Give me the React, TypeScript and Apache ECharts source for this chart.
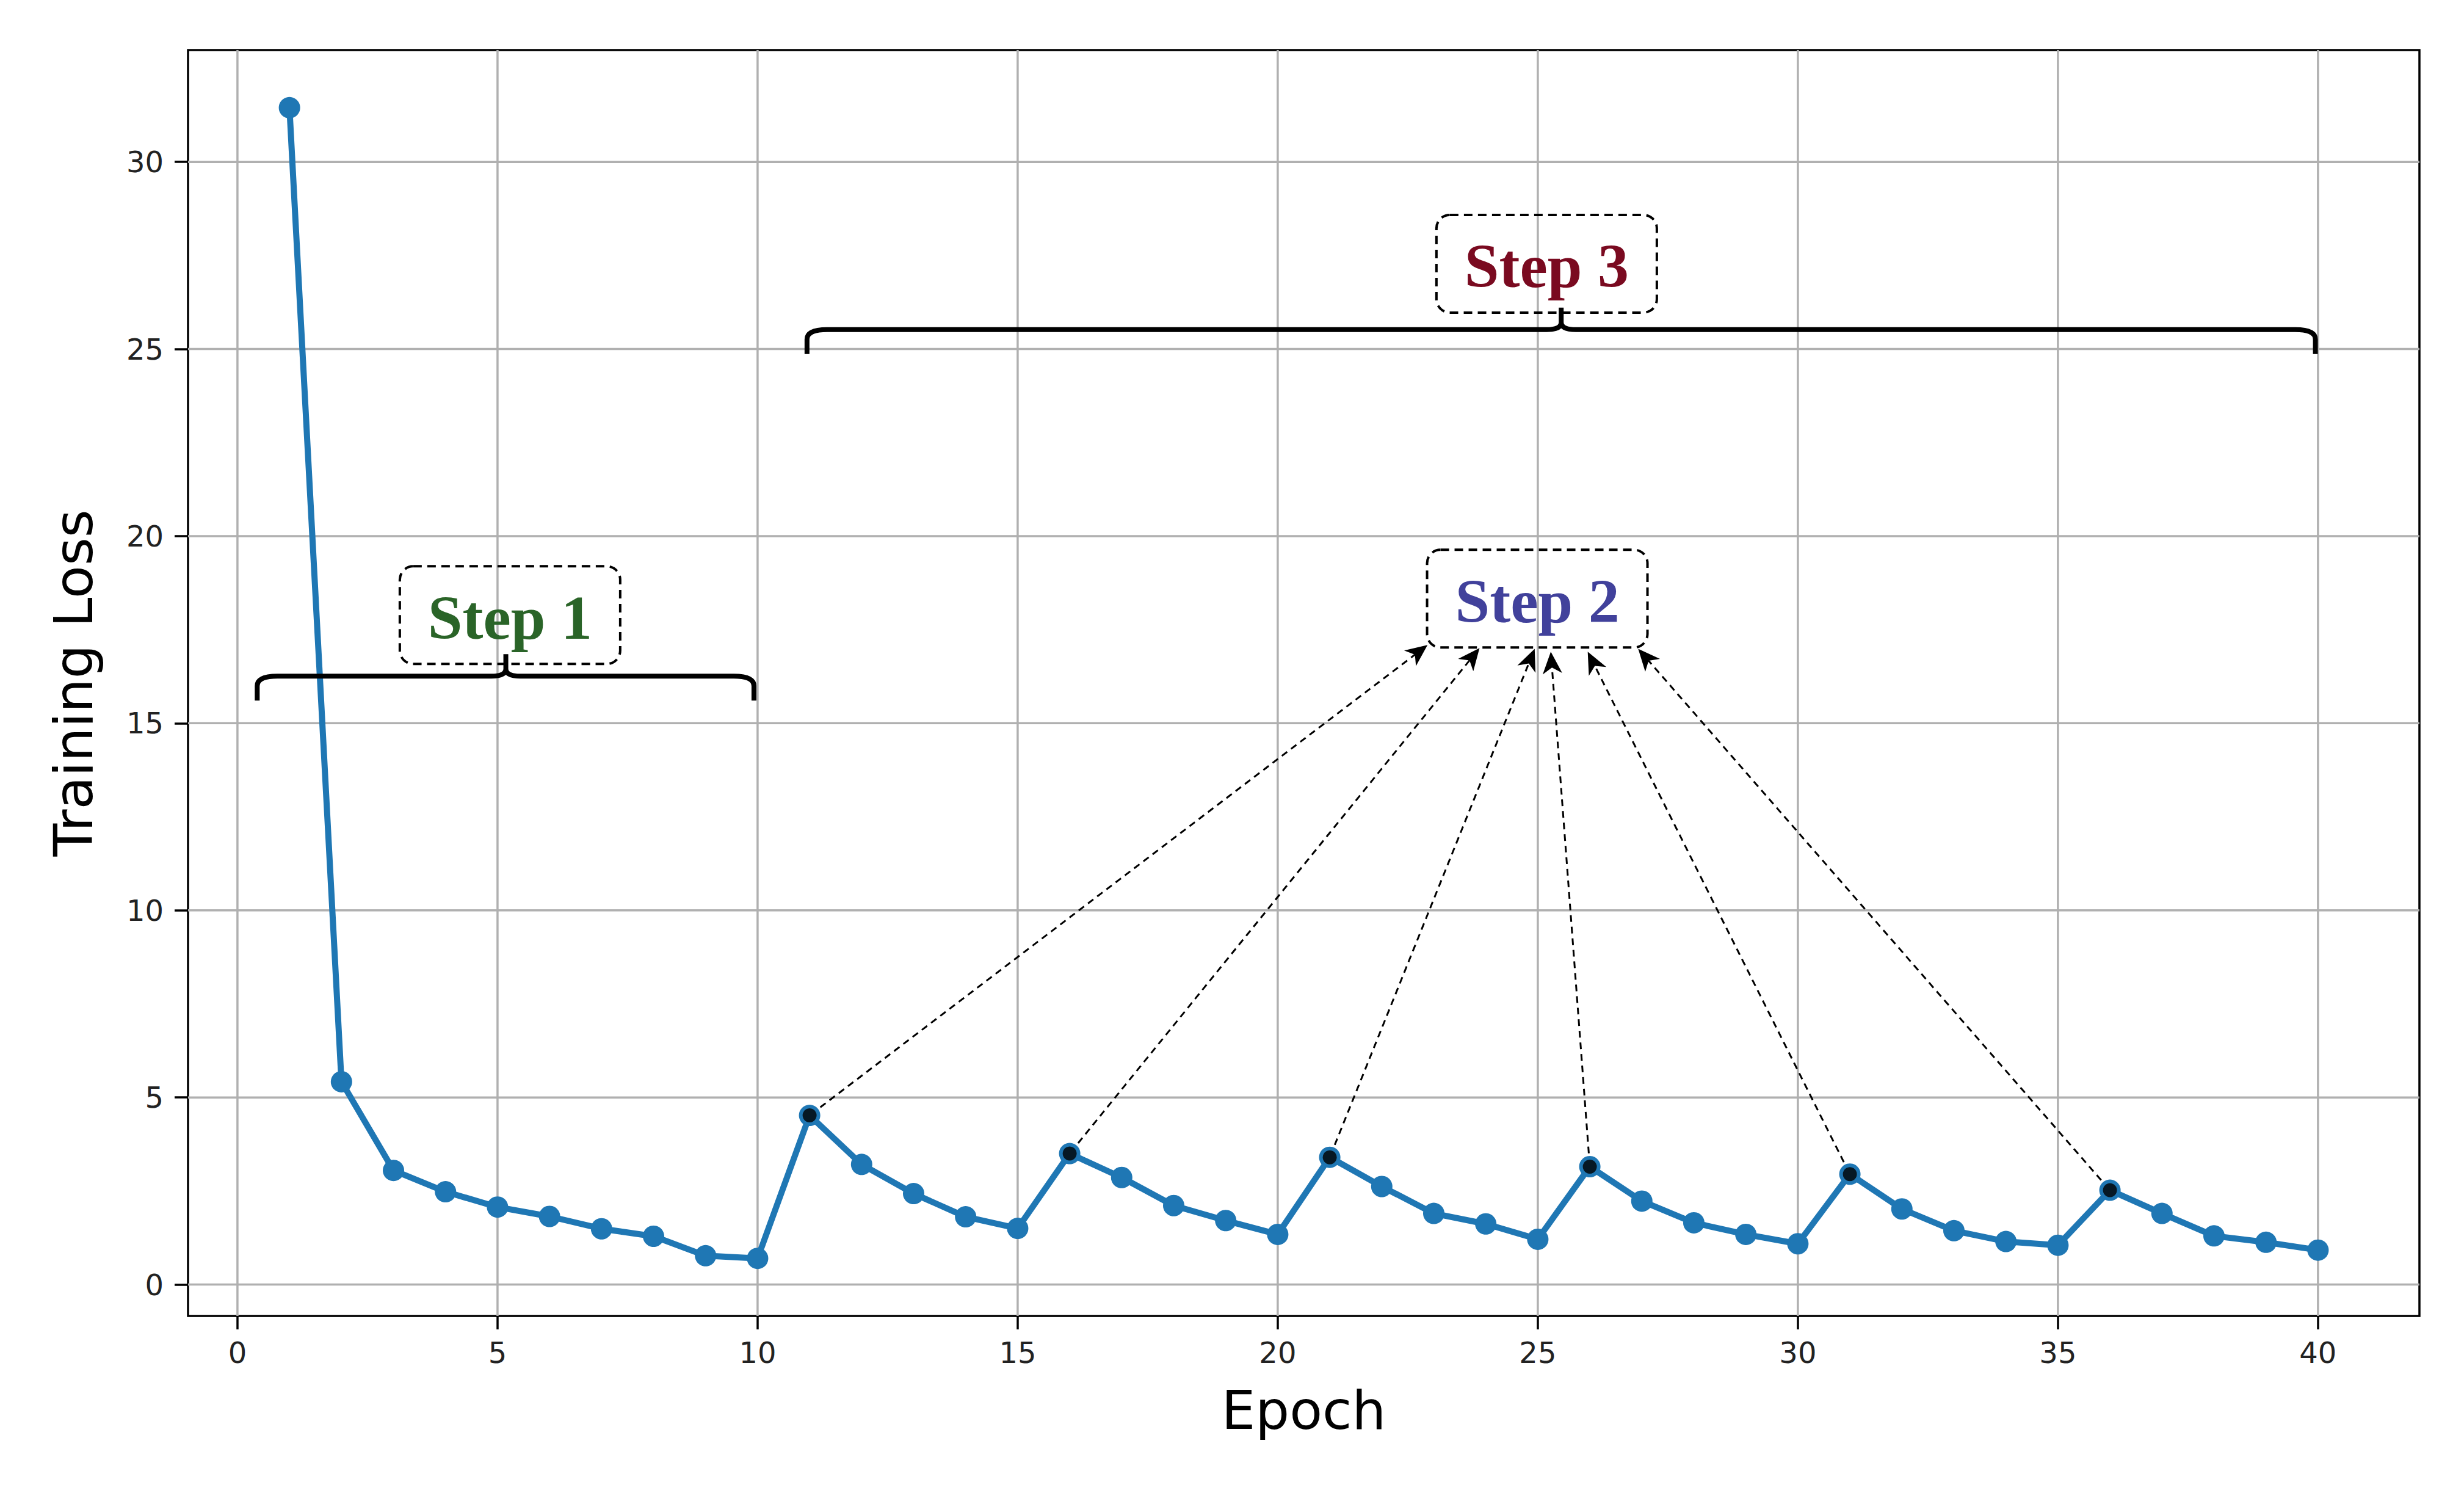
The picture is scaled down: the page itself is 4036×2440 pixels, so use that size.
import React, { useEffect, useRef } from 'react';
import * as echarts from 'echarts';

// ---- data ----
const epochs = [
  1, 2, 3, 4, 5, 6, 7, 8, 9, 10,
  11, 12, 13, 14, 15, 16, 17, 18, 19, 20,
  21, 22, 23, 24, 25, 26, 27, 28, 29, 30,
  31, 32, 33, 34, 35, 36, 37, 38, 39, 40,
];
const trainingLoss = [
  31.45, 5.42, 3.05, 2.48, 2.07, 1.82, 1.49, 1.29, 0.77, 0.70,
  4.52, 3.21, 2.43, 1.81, 1.50, 3.50, 2.86, 2.11, 1.71, 1.34,
  3.40, 2.62, 1.90, 1.62, 1.21, 3.15, 2.23, 1.65, 1.34, 1.09,
  2.95, 2.02, 1.44, 1.15, 1.05, 2.52, 1.90, 1.30, 1.13, 0.92,
];
const peakEpochs = [11, 16, 21, 26, 31, 36];

const xTicks = [0, 5, 10, 15, 20, 25, 30, 35, 40];
const yTicks = [0, 5, 10, 15, 20, 25, 30];

const stepLabels = ['Step 1', 'Step 2', 'Step 3'];
const stepColors = ['#2a6428', '#41419b', '#7a0a20'];
const stepX = [5.24, 24.99, 25.17];
const stepY = [17.89, 18.33, 27.28];

// arrow heads end at the lower edge of the "Step 2" box
const arrowTipX = [22.88, 23.88, 24.94, 25.25, 25.96, 26.93];
const arrowTipY = [17.09, 17.01, 16.99, 16.91, 16.91, 16.99];

// curly braces
const braceX1 = [0.38, 10.95];
const braceX2 = [9.93, 39.95];
const braceY = [16.26, 25.52];
const braceTipX = [5.16, 25.45];

const FONT = '"DejaVu Sans", sans-serif';

export default function App() {
  const ref = useRef<HTMLDivElement>(null);

  useEffect(() => {
    document.body.style.margin = '0';
    if (!ref.current) return;
    const chart = echarts.init(ref.current, undefined, { renderer: 'svg' });

    const lineData = epochs.map((e, i) => [e, trainingLoss[i]]);
    const peakData = peakEpochs.map((e) => [e, trainingLoss[epochs.indexOf(e)]]);
    const arrowData = peakData.map((p, i) => [p[0], p[1], arrowTipX[i], arrowTipY[i]]);
    const braceData = braceX1.map((x1, i) => [x1, braceY[i], braceX2[i], braceTipX[i]]);
    const stepData = stepLabels.map((_, i) => [stepX[i], stepY[i], i]);

    const gridColor = '#b0b0b0';

    const option: any = {
      animation: false,
      backgroundColor: '#ffffff',
      grid: {
        left: 308,
        right: 73,
        top: 82,
        bottom: 285,
        show: true,
        borderColor: '#000',
        borderWidth: 3.5,
        backgroundColor: 'transparent',
      },
      xAxis: {
        type: 'value',
        min: -0.95,
        max: 41.95,
        splitLine: { show: false },
        axisLine: { show: false, onZero: false },
        axisTick: {
          show: true,
          length: 22,
          lineStyle: { color: '#000', width: 3.5 },
          customValues: xTicks,
        },
        axisLabel: {
          customValues: xTicks,
          fontSize: 48,
          fontFamily: FONT,
          color: '#222',
          margin: 36,
        },
        name: 'Epoch',
        nameLocation: 'middle',
        nameGap: 110,
        nameTextStyle: { fontSize: 88, fontFamily: FONT, color: '#000' },
      },
      yAxis: {
        type: 'value',
        min: -0.84,
        max: 32.99,
        splitLine: { show: false },
        axisLine: { show: false, onZero: false },
        axisTick: {
          show: true,
          length: 22,
          lineStyle: { color: '#000', width: 3.5 },
          customValues: yTicks,
        },
        axisLabel: {
          customValues: yTicks,
          fontSize: 48,
          fontFamily: FONT,
          color: '#222',
          margin: 40,
        },
        name: 'Training Loss',
        nameLocation: 'middle',
        nameGap: 144,
        nameTextStyle: { fontSize: 88, fontFamily: FONT, color: '#000' },
      },
      series: [
        // vertical grid lines
        {
          type: 'custom',
          z: 0,
          silent: true,
          data: xTicks.map((v) => [v, 0]),
          encode: { x: 0, y: 1 },
          renderItem: (params: any, api: any) => {
            const cs = params.coordSys;
            const x = api.coord([api.value(0), 0])[0];
            return {
              type: 'line',
              shape: { x1: x, y1: cs.y, x2: x, y2: cs.y + cs.height },
              style: { stroke: gridColor, lineWidth: 3.5 },
            };
          },
        },
        // horizontal grid lines
        {
          type: 'custom',
          z: 0,
          silent: true,
          data: yTicks.map((v) => [0, v]),
          encode: { x: 0, y: 1 },
          renderItem: (params: any, api: any) => {
            const cs = params.coordSys;
            const y = api.coord([0, api.value(1)])[1];
            return {
              type: 'line',
              shape: { x1: cs.x, y1: y, x2: cs.x + cs.width, y2: y },
              style: { stroke: gridColor, lineWidth: 3.5 },
            };
          },
        },
        // loss line
        {
          type: 'line',
          z: 2,
          data: lineData,
          symbol: 'circle',
          symbolSize: 35,
          showSymbol: true,
          itemStyle: { color: '#1f77b4', borderWidth: 0 },
          lineStyle: { color: '#1f77b4', width: 10 },
        },
        // peak markers
        {
          type: 'scatter',
          z: 5,
          data: peakData,
          symbol: 'circle',
          symbolSize: 23,
          itemStyle: { color: '#000' },
        },
        // dashed arrows to Step 2
        {
          type: 'custom',
          z: 4,
          silent: true,
          data: arrowData,
          encode: { x: 0, y: 1 },
          renderItem: (params: any, api: any) => {
            const p0 = api.coord([api.value(0), api.value(1)]);
            const p1 = api.coord([api.value(2), api.value(3)]);
            const dx = p1[0] - p0[0];
            const dy = p1[1] - p0[1];
            const len = Math.sqrt(dx * dx + dy * dy);
            const ux = dx / len;
            const uy = dy / len;
            const nx = -uy;
            const ny = ux;
            const headLen = 36;
            const headHalf = 16;
            const notch = 26;
            const s = [p0[0] + ux * 22, p0[1] + uy * 22];
            const e = [p1[0] - ux * notch, p1[1] - uy * notch];
            const back = [p1[0] - ux * headLen, p1[1] - uy * headLen];
            return {
              type: 'group',
              children: [
                {
                  type: 'line',
                  shape: { x1: s[0], y1: s[1], x2: e[0], y2: e[1] },
                  style: { stroke: '#000', lineWidth: 3, lineDash: [11, 8] },
                },
                {
                  type: 'polygon',
                  shape: {
                    points: [
                      [p1[0], p1[1]],
                      [back[0] + nx * headHalf, back[1] + ny * headHalf],
                      [e[0], e[1]],
                      [back[0] - nx * headHalf, back[1] - ny * headHalf],
                    ],
                  },
                  style: { fill: '#000' },
                },
              ],
            };
          },
        },
        // curly braces
        {
          type: 'custom',
          z: 4,
          silent: true,
          data: braceData,
          encode: { x: 0, y: 1 },
          renderItem: (params: any, api: any) => {
            const a = api.coord([api.value(0), api.value(1)]);
            const b = api.coord([api.value(2), api.value(1)]);
            const c = api.coord([api.value(3), api.value(1)]);
            const L = a[0];
            const R = b[0];
            const Y = a[1];
            const C = c[0];
            const d =
              `M ${L} ${Y + 40} L ${L} ${Y + 16} Q ${L} ${Y} ${L + 33} ${Y} ` +
              `L ${C - 24} ${Y} Q ${C} ${Y} ${C} ${Y - 12} L ${C} ${Y - 36} ` +
              `M ${C} ${Y - 12} Q ${C} ${Y} ${C + 24} ${Y} ` +
              `L ${R - 33} ${Y} Q ${R} ${Y} ${R} ${Y + 16} L ${R} ${Y + 40}`;
            return {
              type: 'path',
              shape: { pathData: d },
              style: { stroke: '#000', lineWidth: 8, fill: 'none', lineCap: 'butt' },
            };
          },
        },
        // step labels with dashed rounded boxes
        {
          type: 'custom',
          z: 6,
          silent: true,
          data: stepData,
          encode: { x: 0, y: 1 },
          renderItem: (params: any, api: any) => {
            const p = api.coord([api.value(0), api.value(1)]);
            const i = api.value(2);
            const w = 361;
            const h = 160;
            return {
              type: 'group',
              children: [
                {
                  type: 'rect',
                  shape: { x: p[0] - w / 2, y: p[1] - h / 2, width: w, height: h, r: 22 },
                  style: { fill: 'none', stroke: '#000', lineWidth: 4, lineDash: [14, 9] },
                },
                {
                  type: 'text',
                  x: p[0],
                  y: p[1] + 4,
                  style: {
                    text: stepLabels[i],
                    fill: stepColors[i],
                    fontSize: 102,
                    fontWeight: 'bold',
                    fontFamily: '"Liberation Serif", "Times New Roman", serif',
                    align: 'center',
                    verticalAlign: 'middle',
                  },
                },
              ],
            };
          },
        },
      ],
    };

    chart.setOption(option);
    return () => {
      chart.dispose();
    };
  }, []);

  return <div ref={ref} style={{ width: 4036, height: 2440 }} />;
}
